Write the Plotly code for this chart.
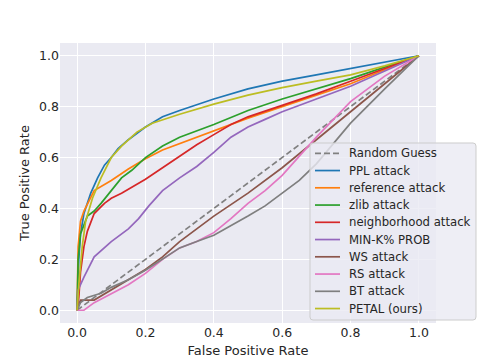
import plotly.graph_objects as go

# ROC curves (FPR, TPR)
ppl_fpr = [0, 0.005, 0.01, 0.02, 0.04, 0.06, 0.08, 0.1, 0.12, 0.15, 0.2, 0.25, 0.3, 0.4, 0.5, 0.6, 0.7, 0.8, 0.9, 1.0]
ppl_tpr = [0, 0.2, 0.3, 0.38, 0.46, 0.52, 0.57, 0.6, 0.635, 0.67, 0.72, 0.76, 0.785, 0.83, 0.87, 0.9, 0.925, 0.95, 0.975, 1.0]

ref_fpr = [0, 0.003, 0.01, 0.02, 0.05, 0.1, 0.15, 0.2, 0.25, 0.3, 0.4, 0.5, 0.6, 0.7, 0.8, 0.9, 1.0]
ref_tpr = [0, 0.25, 0.35, 0.39, 0.47, 0.51, 0.555, 0.595, 0.63, 0.655, 0.705, 0.755, 0.8, 0.845, 0.89, 0.945, 1.0]

zlib_fpr = [0, 0.003, 0.01, 0.03, 0.05, 0.07, 0.1, 0.13, 0.16, 0.2, 0.25, 0.3, 0.4, 0.5, 0.6, 0.7, 0.8, 0.9, 1.0]
zlib_tpr = [0, 0.2, 0.3, 0.37, 0.39, 0.42, 0.47, 0.52, 0.55, 0.6, 0.645, 0.68, 0.73, 0.785, 0.83, 0.87, 0.91, 0.955, 1.0]

nbr_fpr = [0, 0.005, 0.01, 0.02, 0.03, 0.05, 0.08, 0.1, 0.13, 0.2, 0.25, 0.3, 0.35, 0.4, 0.45, 0.5, 0.6, 0.7, 0.8, 0.9, 1.0]
nbr_tpr = [0, 0.05, 0.15, 0.25, 0.31, 0.38, 0.42, 0.44, 0.46, 0.515, 0.56, 0.605, 0.65, 0.69, 0.73, 0.76, 0.805, 0.85, 0.9, 0.95, 1.0]

mink_fpr = [0, 0.003, 0.02, 0.05, 0.1, 0.15, 0.18, 0.21, 0.25, 0.3, 0.35, 0.4, 0.45, 0.5, 0.55, 0.6, 0.7, 0.8, 0.9, 1.0]
mink_tpr = [0, 0.08, 0.13, 0.21, 0.27, 0.32, 0.36, 0.41, 0.47, 0.52, 0.565, 0.62, 0.68, 0.72, 0.75, 0.78, 0.83, 0.88, 0.94, 1.0]

ws_fpr = [0, 0.01, 0.05, 0.1, 0.15, 0.2, 0.25, 0.3, 0.35, 0.4, 0.5, 0.6, 0.7, 0.8, 0.9, 1.0]
ws_tpr = [0, 0.04, 0.04, 0.08, 0.12, 0.16, 0.21, 0.27, 0.32, 0.37, 0.46, 0.56, 0.67, 0.78, 0.89, 1.0]

rs_fpr = [0, 0.02, 0.05, 0.1, 0.15, 0.2, 0.25, 0.3, 0.35, 0.4, 0.45, 0.5, 0.55, 0.6, 0.7, 0.8, 0.9, 1.0]
rs_tpr = [0, 0.0, 0.03, 0.065, 0.1, 0.145, 0.2, 0.245, 0.27, 0.305, 0.36, 0.42, 0.47, 0.53, 0.68, 0.82, 0.92, 1.0]

bt_fpr = [0, 0.01, 0.03, 0.07, 0.1, 0.15, 0.2, 0.25, 0.3, 0.35, 0.4, 0.5, 0.55, 0.6, 0.65, 0.7, 0.8, 0.9, 1.0]
bt_tpr = [0, 0.03, 0.05, 0.067, 0.09, 0.12, 0.157, 0.2, 0.245, 0.27, 0.295, 0.37, 0.41, 0.46, 0.51, 0.575, 0.735, 0.87, 1.0]

petal_fpr = [0, 0.005, 0.015, 0.025, 0.045, 0.07, 0.1, 0.13, 0.175, 0.22, 0.3, 0.4, 0.5, 0.6, 0.7, 0.8, 0.9, 1.0]
petal_tpr = [0, 0.1, 0.25, 0.35, 0.44, 0.52, 0.6, 0.645, 0.7, 0.735, 0.77, 0.81, 0.845, 0.875, 0.9, 0.925, 0.96, 1.0]

guess = [0, 1]

series = [
    ("PPL attack", ppl_fpr, ppl_tpr, "#1f77b4"),
    ("reference attack", ref_fpr, ref_tpr, "#ff7f0e"),
    ("zlib attack", zlib_fpr, zlib_tpr, "#2ca02c"),
    ("neighborhood attack", nbr_fpr, nbr_tpr, "#d62728"),
    ("MIN-K% PROB", mink_fpr, mink_tpr, "#9467bd"),
    ("WS attack", ws_fpr, ws_tpr, "#8c564b"),
    ("RS attack", rs_fpr, rs_tpr, "#e377c2"),
    ("BT attack", bt_fpr, bt_tpr, "#7f7f7f"),
    ("PETAL (ours)", petal_fpr, petal_tpr, "#bcbd22"),
]

W, H = 485, 363
L, R, T, B = 60, 49, 43, 40
GUESS_DASH = "6px,3px"


def _px(x):
    return (x - L) / (W - L - R)


def _py(y):
    return (H - B - y) / (H - T - B)


fig = go.Figure()
fig.add_trace(go.Scatter(x=guess, y=guess, mode="lines", name="Random Guess",
                         line=dict(color="#808080", width=1.7, dash=GUESS_DASH)))
for name, xs, ys, col in series:
    fig.add_trace(go.Scatter(x=xs, y=ys, mode="lines", name=name,
                             line=dict(color=col, width=1.7)))

# matplotlib-style legend box (rounded frame, tight rows) drawn in paper coords
bx0, bx1, by0, by1, rad = 310, 476, 143, 320, 3
pts = [
    ("M", bx0 + rad, by0), ("L", bx1 - rad, by0), ("Q", bx1, by0, bx1, by0 + rad),
    ("L", bx1, by1 - rad), ("Q", bx1, by1, bx1 - rad, by1), ("L", bx0 + rad, by1),
    ("Q", bx0, by1, bx0, by1 - rad), ("L", bx0, by0 + rad), ("Q", bx0, by0, bx0 + rad, by0),
]
path = ""
for p in pts:
    cmd, coords = p[0], p[1:]
    path += cmd + " " + " ".join(
        f"{_px(coords[i]):.5f},{_py(coords[i + 1]):.5f}" for i in range(0, len(coords), 2)
    ) + " "
fig.add_shape(type="path", path=path + "Z", xref="paper", yref="paper", layer="above",
              fillcolor="rgba(234,234,242,0.8)", line=dict(color="#cccccc", width=1))

entries = [("Random Guess", "#808080", GUESS_DASH)] + [(n, c, "solid") for n, _, _, c in series]
row0, step = 153.3, 17.25
for i, (name, col, dash) in enumerate(entries):
    yy = _py(row0 + i * step)
    fig.add_shape(type="line", xref="paper", yref="paper", layer="above",
                  x0=_px(315), x1=_px(340), y0=yy, y1=yy,
                  line=dict(color=col, width=1.7, dash=dash))
    fig.add_annotation(x=_px(347), y=yy, xref="paper", yref="paper", text=name,
                       showarrow=False, xanchor="left", yanchor="middle",
                       font=dict(size=11.7, color="#262626"))

ticks = [0, 0.2, 0.4, 0.6, 0.8, 1.0]
axis = dict(range=[-0.05, 1.05], tickvals=ticks, tickformat=".1f",
            showgrid=True, gridcolor="white", gridwidth=1.3, zeroline=False,
            ticks="", showline=False, tickfont=dict(size=12.5, color="#262626"))

fig.update_layout(
    width=W, height=H,
    margin=dict(l=L, r=R, t=T, b=B, autoexpand=False),
    paper_bgcolor="white", plot_bgcolor="#eaeaf2",
    font=dict(family="DejaVu Sans", color="#262626", size=12.5),
    xaxis=dict(axis, title=dict(text="False Positive Rate", standoff=7, font=dict(size=13))),
    yaxis=dict(axis, title=dict(text="True Positive Rate", standoff=6, font=dict(size=13))),
    showlegend=False,
)

fig.write_html("out.html", config={"displayModeBar": False},
               post_script="document.body.style.margin='0';")
